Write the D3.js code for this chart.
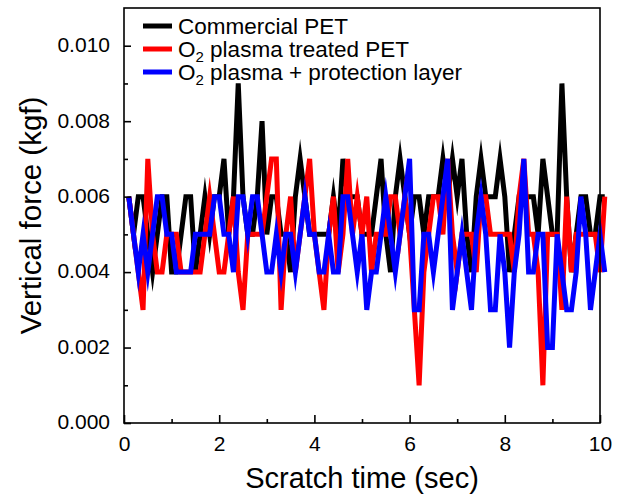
<!DOCTYPE html>
<html>
<head>
<meta charset="utf-8">
<script src="https://cdn.jsdelivr.net/npm/d3@7"></script>
<style>
    body { margin: 0; background: #fff; }
    text { font-family: Arial, "Liberation Sans", sans-serif; fill: #000; }
</style>
</head>
<body>
<div id="chart"></div>
<script>
// sample times (sec), one reading every 0.1 s
var times = d3.range(1, 102).map(function (i) { return i / 10; });

// vertical force readings (kgf)
var commercialPet = [
    0.006, 0.005, 0.006, 0.006, 0.005, 0.004, 0.005, 0.006, 0.006, 0.004,
    0.004, 0.005, 0.006, 0.006, 0.004, 0.005, 0.006, 0.005, 0.006, 0.006,
    0.007, 0.005, 0.006, 0.009, 0.006, 0.005, 0.005, 0.006, 0.008, 0.005,
    0.006, 0.006, 0.005, 0.005, 0.004, 0.006, 0.007, 0.006, 0.005, 0.005,
    0.005, 0.005, 0.005, 0.006, 0.005, 0.007, 0.006, 0.006, 0.006, 0.005,
    0.005, 0.005, 0.006, 0.007, 0.005, 0.004, 0.006, 0.007, 0.006, 0.005,
    0.006, 0.006, 0.005, 0.006, 0.006, 0.006, 0.007, 0.006, 0.007, 0.006,
    0.007, 0.005, 0.004, 0.006, 0.007, 0.006, 0.006, 0.006, 0.007, 0.006,
    0.004, 0.005, 0.006, 0.006, 0.006, 0.006, 0.005, 0.007, 0.006, 0.005,
    0.005, 0.009, 0.006, 0.004, 0.005, 0.006, 0.006, 0.005, 0.005, 0.006,
    0.006
];
var plasmaTreated = [
    0.006, 0.005, 0.004, 0.003, 0.007, 0.005, 0.004, 0.004, 0.005, 0.005,
    0.005, 0.004, 0.004, 0.004, 0.004, 0.004, 0.005, 0.006, 0.005, 0.004,
    0.004, 0.005, 0.006, 0.004, 0.003, 0.005, 0.005, 0.005, 0.005, 0.006,
    0.007, 0.007, 0.003, 0.005, 0.006, 0.004, 0.005, 0.006, 0.007, 0.005,
    0.004, 0.003, 0.005, 0.006, 0.004, 0.005, 0.007, 0.005, 0.006, 0.005,
    0.006, 0.004, 0.005, 0.005, 0.005, 0.006, 0.006, 0.005, 0.006, 0.005,
    0.003, 0.001, 0.004, 0.005, 0.006, 0.006, 0.005, 0.007, 0.005, 0.004,
    0.005, 0.005, 0.005, 0.004, 0.006, 0.006, 0.005, 0.005, 0.005, 0.005,
    0.005, 0.004, 0.006, 0.007, 0.005, 0.005, 0.004, 0.001, 0.005, 0.005,
    0.005, 0.003, 0.006, 0.004, 0.005, 0.005, 0.005, 0.005, 0.005, 0.004,
    0.006
];
var plasmaProtected = [
    0.006, 0.005, 0.004, 0.005, 0.004, 0.005, 0.006, 0.006, 0.005, 0.005,
    0.004, 0.004, 0.004, 0.004, 0.005, 0.005, 0.005, 0.005, 0.006, 0.006,
    0.005, 0.005, 0.004, 0.006, 0.006, 0.005, 0.006, 0.006, 0.005, 0.004,
    0.004, 0.005, 0.004, 0.005, 0.005, 0.004, 0.005, 0.006, 0.005, 0.005,
    0.004, 0.004, 0.005, 0.004, 0.004, 0.006, 0.006, 0.005, 0.004, 0.005,
    0.003, 0.004, 0.004, 0.005, 0.006, 0.005, 0.004, 0.005, 0.006, 0.007,
    0.003, 0.003, 0.005, 0.005, 0.004, 0.005, 0.006, 0.007, 0.003, 0.004,
    0.005, 0.004, 0.003, 0.005, 0.006, 0.005, 0.003, 0.003, 0.005, 0.004,
    0.002, 0.004, 0.005, 0.007, 0.004, 0.004, 0.005, 0.005, 0.002, 0.002,
    0.005, 0.004, 0.003, 0.003, 0.004, 0.006, 0.005, 0.003, 0.004, 0.005,
    0.004
];

var seriesNames = ["Commercial PET", "O2 plasma treated PET", "O2 plasma + protection layer"];
var seriesColors = ["#000000", "#ff0000", "#0000ff"];
var seriesValues = [commercialPet, plasmaTreated, plasmaProtected];

var xTicks = [0, 2, 4, 6, 8, 10];
var yTicks = [0, 0.002, 0.004, 0.006, 0.008, 0.010];

var margin = { top: 8, right: 24, bottom: 77, left: 124 };
var width = 624, height = 500;
var plotW = width - margin.left - margin.right;
var plotH = height - margin.top - margin.bottom;

var svg = d3.select("#chart")
    .append("svg")
    .attr("width", width)
    .attr("height", height);

var x = d3.scaleLinear().domain([0, 10]).range([0, plotW]);
var y = d3.scaleLinear().domain([0, 0.011]).range([plotH, 0]);

var g = svg.append("g")
    .attr("transform", "translate(" + margin.left + "," + margin.top + ")");

// data lines
var line = d3.line()
    .x(function (d) { return x(d[0]); })
    .y(function (d) { return y(d[1]); });

seriesValues.forEach(function (vals, i) {
    g.append("path")
        .datum(times.map(function (t, k) { return [t, vals[k]]; }))
        .attr("d", line)
        .attr("fill", "none")
        .attr("stroke", seriesColors[i])
        .attr("stroke-width", 5)
        .attr("stroke-linejoin", "miter")
        .attr("stroke-miterlimit", 10);
});

// frame
g.append("rect")
    .attr("x", 0)
    .attr("y", 0)
    .attr("width", plotW)
    .attr("height", plotH)
    .attr("fill", "none")
    .attr("stroke", "#000")
    .attr("stroke-width", 1.6);

// axes, ticks pointing inward
var xAxis = g.append("g")
    .attr("transform", "translate(0," + plotH + ")")
    .call(d3.axisBottom(x).tickValues(xTicks).tickSizeInner(-8).tickSizeOuter(0)
        .tickPadding(12).tickFormat(d3.format("d")));
var xMinor = g.append("g")
    .attr("transform", "translate(0," + plotH + ")")
    .call(d3.axisBottom(x).tickValues([1, 3, 5, 7, 9]).tickSizeInner(-4).tickSizeOuter(0)
        .tickFormat(""));

var yAxis = g.append("g")
    .call(d3.axisLeft(y).tickValues(yTicks).tickSizeInner(-7).tickSizeOuter(0)
        .tickPadding(14).tickFormat(d3.format(".3f")));
var yMinor = g.append("g")
    .call(d3.axisLeft(y).tickValues([0.001, 0.003, 0.005, 0.007, 0.009]).tickSizeInner(-4)
        .tickSizeOuter(0).tickFormat(""));

[xAxis, xMinor, yAxis, yMinor].forEach(function (ax) {
    ax.select(".domain").remove();
    ax.selectAll("line").attr("stroke", "#000").attr("stroke-width", 1.6);
    ax.selectAll("text")
        .attr("fill", "#000")
        .style("font-size", "21px")
        .style("font-family", "Arial, 'Liberation Sans', sans-serif");
});
yAxis.selectAll("text").attr("dy", "0.28em");
xAxis.selectAll("text").attr("dy", "0.75em");

// axis titles
svg.append("text")
    .attr("x", margin.left + plotW / 2)
    .attr("y", 488)
    .attr("text-anchor", "middle")
    .style("font-size", "29px")
    .text("Scratch time (sec)");

svg.append("text")
    .attr("transform", "translate(41," + (margin.top + plotH / 2) + ") rotate(-90)")
    .attr("text-anchor", "middle")
    .style("font-size", "29.5px")
    .text("Vertical force (kgf)");

// legend
var legend = svg.append("g").attr("transform", "translate(143,26)");
seriesNames.forEach(function (name, i) {
    var row = legend.append("g").attr("transform", "translate(0," + (i * 23) + ")");
    row.append("line")
        .attr("x1", 0)
        .attr("x2", 29)
        .attr("y1", 0)
        .attr("y2", 0)
        .attr("stroke", seriesColors[i])
        .attr("stroke-width", 5);
    var label = row.append("text")
        .attr("x", 35)
        .attr("y", 8)
        .style("font-size", "22.5px");
    if (name.indexOf("O2") === 0) {
        label.append("tspan").text("O");
        label.append("tspan").attr("dy", 5).style("font-size", "15px").text("2");
        label.append("tspan").attr("dy", -5).text(name.slice(2));
    } else {
        label.text(name);
    }
});
</script>
</body>
</html>
